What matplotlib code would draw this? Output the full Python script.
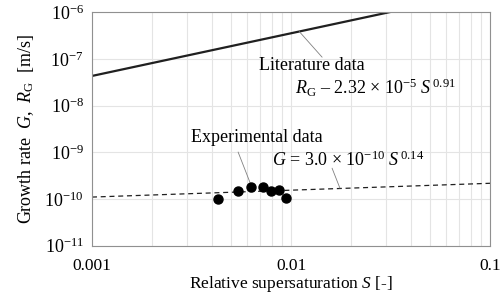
import matplotlib
matplotlib.use("Agg")
import matplotlib.pyplot as plt
from matplotlib.ticker import LogLocator, NullFormatter, FixedFormatter, FixedLocator

plt.rcParams['font.family'] = ['Liberation Serif', 'DejaVu Serif']
plt.rcParams['mathtext.fontset'] = 'custom'
plt.rcParams['mathtext.rm'] = 'Liberation Serif'
plt.rcParams['mathtext.it'] = 'Liberation Serif:italic'

# experimental growth rates
exp_S = [0.00432, 0.0054, 0.00626, 0.00722, 0.00794, 0.00871, 0.00944]
exp_G = [0.98e-10, 1.48e-10, 1.85e-10, 1.80e-10, 1.52e-10, 1.57e-10, 1.05e-10]

# literature correlation line (end points, log-log straight line)
lit_S = [0.001, 0.04]
lit_R = [4.3e-8, 1.25e-6]

# fit of experimental data
fit_S = [0.001, 0.1]
fit_G = [1.1e-10, 2.17e-10]

x_ticks = [0.001, 0.01, 0.1]
x_labels = ['0.001', '0.01', '0.1']
y_ticks = [1e-11, 1e-10, 1e-9, 1e-8, 1e-7, 1e-6]
y_labels = [r'10$^{\mathrm{-%d}}$' % n for n in [11, 10, 9, 8, 7, 6]]

fig = plt.figure(figsize=(5.04, 2.95), dpi=100)
ax = fig.add_axes([0.1825, 0.167, 0.79, 0.792])
ax.set_xscale('log')
ax.set_yscale('log')
ax.set_xlim(0.001, 0.1)
ax.set_ylim(1e-11, 1e-6)

ax.xaxis.set_major_locator(FixedLocator(x_ticks))
ax.xaxis.set_major_formatter(FixedFormatter(x_labels))
ax.xaxis.set_minor_locator(LogLocator(base=10, subs=range(2, 10)))
ax.xaxis.set_minor_formatter(NullFormatter())
ax.yaxis.set_major_locator(FixedLocator(y_ticks))
ax.yaxis.set_major_formatter(FixedFormatter(y_labels))
ax.yaxis.set_minor_locator(FixedLocator([]))

ax.grid(True, which='major', color='#e4e4e4', lw=0.8)
ax.grid(True, which='minor', axis='x', color='#e4e4e4', lw=0.8)
ax.set_axisbelow(True)
for s in ax.spines.values():
    s.set_color('#909090')
    s.set_linewidth(0.8)
ax.tick_params(which='both', length=0, labelsize=13)
ax.tick_params(axis='x', pad=9, labelsize=12.5)
ax.tick_params(axis='y', pad=6)

ax.plot(lit_S, lit_R, color='#202020', lw=1.6)
ax.plot(fit_S, fit_G, color='#202020', lw=0.9, ls=(0, (4, 3)))
ax.plot(exp_S, exp_G, 'o', color='black', ms=6.5, zorder=5)

lead = dict(arrowstyle='-', color='#808080', lw=0.6, shrinkA=0, shrinkB=0)
ax.annotate('', xy=(0.011, 2.32e-5 * 0.011 ** 0.91), xytext=(0.578, 0.807),
            textcoords='axes fraction', arrowprops=lead)
ax.annotate('', xy=(exp_S[2], 2.1e-10), xytext=(0.367, 0.401),
            textcoords='axes fraction', arrowprops=lead)
ax.annotate('', xy=(0.0176, 3.0e-10 * 0.0176 ** 0.14), xytext=(0.603, 0.332),
            textcoords='axes fraction', arrowprops=lead)

ax.text(0.42, 0.773, 'Literature data', transform=ax.transAxes, fontsize=13, va='center')
ax.text(0.51, 0.675, r'$R_\mathrm{G}$ – 2.32 × 10$^{\mathrm{-5}}$ $S^{\mathrm{\,0.91}}$',
        transform=ax.transAxes, fontsize=13, va='center')
ax.text(0.249, 0.465, 'Experimental data', transform=ax.transAxes, fontsize=13, va='center')
ax.text(0.452, 0.367, r'$G$ = 3.0 × 10$^{\mathrm{-10}}$ $S^{\mathrm{\,0.14}}$',
        transform=ax.transAxes, fontsize=13, va='center')

ax.set_xlabel(r'Relative supersaturation $S$ [-]', fontsize=12.5, labelpad=0)
ax.set_ylabel(r'Growth rate  $G$,  $R_\mathrm{G}$  [m/s]', fontsize=13, labelpad=6)

fig.savefig('out.png', dpi=100)
